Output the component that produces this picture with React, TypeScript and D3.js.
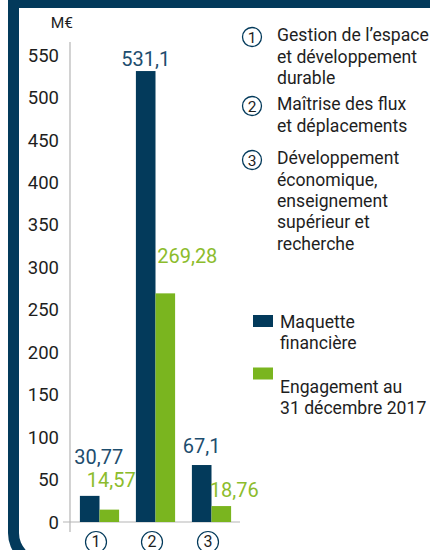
import React from "react";
import * as d3 from "d3";

// ---- data ----
const categories = ["1", "2", "3"];
const seriesNames = ["Maquette financière", "Engagement au 31 décembre 2017"];
const maquette = [30.77, 531.1, 67.1];
const engagement = [14.57, 269.28, 18.76];
const maquetteLabels = ["30,77", "531,1", "67,1"];
const engagementLabels = ["14,57", "269,28", "18,76"];
const yTicks = [0, 50, 100, 150, 200, 250, 300, 350, 400, 450, 500, 550];
const unitLabel = "M€";
const categoryDescriptions = [
  ["Gestion de l’espace", "et développement", "durable"],
  ["Maîtrise des flux", "et déplacements"],
  ["Développement", "économique,", "enseignement", "supérieur et", "recherche"],
];
const legendLines = [["Maquette", "financière"], ["Engagement au", "31 décembre 2017"]];

// ---- layout / style ----
const NAVY = "#033a5b";
const GREEN = "#7ab51f";
const NAVY_LABEL = "#1d4d6e";
const GREEN_LABEL = "#8cbc2c";
const TEXT = "#1e1e1e";
const FONT = "Roboto, 'Noto Sans', sans-serif";
// label offsets (dx, dy) relative to bar top-center
const darkLabelOffsets = [[9, -32], [0, -5.5], [0, -12.5]];
const greenLabelOffsets = [[2, -23], [22, -30], [13, -9.5]];

export default function App() {
  const y = d3.scaleLinear().domain([0, 550]).range([522, 55]);
  const x0 = d3.scaleBand<string>().domain(categories).range([71.5, 239.5]).paddingInner(0.3).paddingOuter(0.15);
  const x1 = d3.scaleBand<number>().domain([0, 1]).range([0, x0.bandwidth()]);
  const series = [maquette, engagement];
  const colors = [NAVY, GREEN];
  const labelColors = [NAVY_LABEL, GREEN_LABEL];
  const labels = [maquetteLabels, engagementLabels];
  const offsets = [darkLabelOffsets, greenLabelOffsets];

  const descStarts = [35, 104, 158];
  const lineH = 21.3;

  return (
    <svg width={430} height={550} style={{ position: "absolute", left: 0, top: 0 }} fontFamily={FONT}>
      <rect width={430} height={550} fill="#fff" />
      {/* frame */}
      <path
        fillRule="evenodd"
        fill={NAVY}
        d="M8,-20 H500 V568 H43 A35,35 0 0 1 8,533 Z M19,8 H500 V558 H44 A25,25 0 0 1 19,533 Z"
      />
      {/* axes */}
      <line x1={70} x2={70} y1={42} y2={532} stroke="#b5b5b5" strokeWidth={1.2} />
      <line x1={63} x2={240} y1={y(0)} y2={y(0)} stroke="#b5b5b5" strokeWidth={1.2} />
      {yTicks.map((t) => (
        <text key={t} x={59} y={y(t)} dy="0.36em" textAnchor="end" fontSize={18.5} fill={TEXT}>
          {t}
        </text>
      ))}
      <text x={73} y={22} dy="0.36em" textAnchor="end" fontSize={15.5} fill={TEXT}>
        {unitLabel}
      </text>
      {/* bars */}
      {categories.map((c, i) => (
        <g key={c}>
          {series.map((s, k) => (
            <rect
              key={k}
              x={(x0(c) as number) + (x1(k) as number)}
              y={y(s[i])}
              width={x1.bandwidth()}
              height={y(0) - y(s[i])}
              fill={colors[k]}
            />
          ))}
          {series.map((s, k) => (
            <text
              key={"l" + k}
              x={(x0(c) as number) + (x1(k) as number) + x1.bandwidth() / 2 + offsets[k][i][0]}
              y={y(s[i]) + offsets[k][i][1]}
              textAnchor="middle"
              fontSize={20}
              fill={labelColors[k]}
            >
              {labels[k][i]}
            </text>
          ))}
          <circle cx={(x0(c) as number) + x0.bandwidth() / 2 - 3.5} cy={542} r={10.5} fill="none" stroke={NAVY} strokeWidth={1.2} />
          <text x={(x0(c) as number) + x0.bandwidth() / 2 - 3.5} y={541} dy="0.36em" textAnchor="middle" fontSize={16} fill={TEXT}>
            {c}
          </text>
        </g>
      ))}
      {/* category descriptions */}
      {categoryDescriptions.map((lines, i) => (
        <g key={i}>
          <circle cx={252} cy={descStarts[i] + 2} r={9.5} fill="none" stroke={NAVY} strokeWidth={1.3} />
          <text x={252} y={descStarts[i] + 2} dy="0.36em" textAnchor="middle" fontSize={15.5} fill={TEXT}>
            {categories[i]}
          </text>
          {lines.map((l, j) => (
            <text key={j} x={277} y={descStarts[i] + j * lineH} dy="0.36em" fontSize={17.6} fill={TEXT}>
              {l}
            </text>
          ))}
        </g>
      ))}
      {/* legend */}
      {seriesNames.map((n, k) => (
        <g key={n}>
          <rect x={253} y={[315, 367.5][k]} width={20} height={12} fill={colors[k]} />
          {legendLines[k].map((l, j) => (
            <text key={j} x={280} y={[322, 387][k] + j * 21} dy="0.36em" fontSize={17.6} fill={TEXT}>
              {l}
            </text>
          ))}
        </g>
      ))}
    </svg>
  );
}
